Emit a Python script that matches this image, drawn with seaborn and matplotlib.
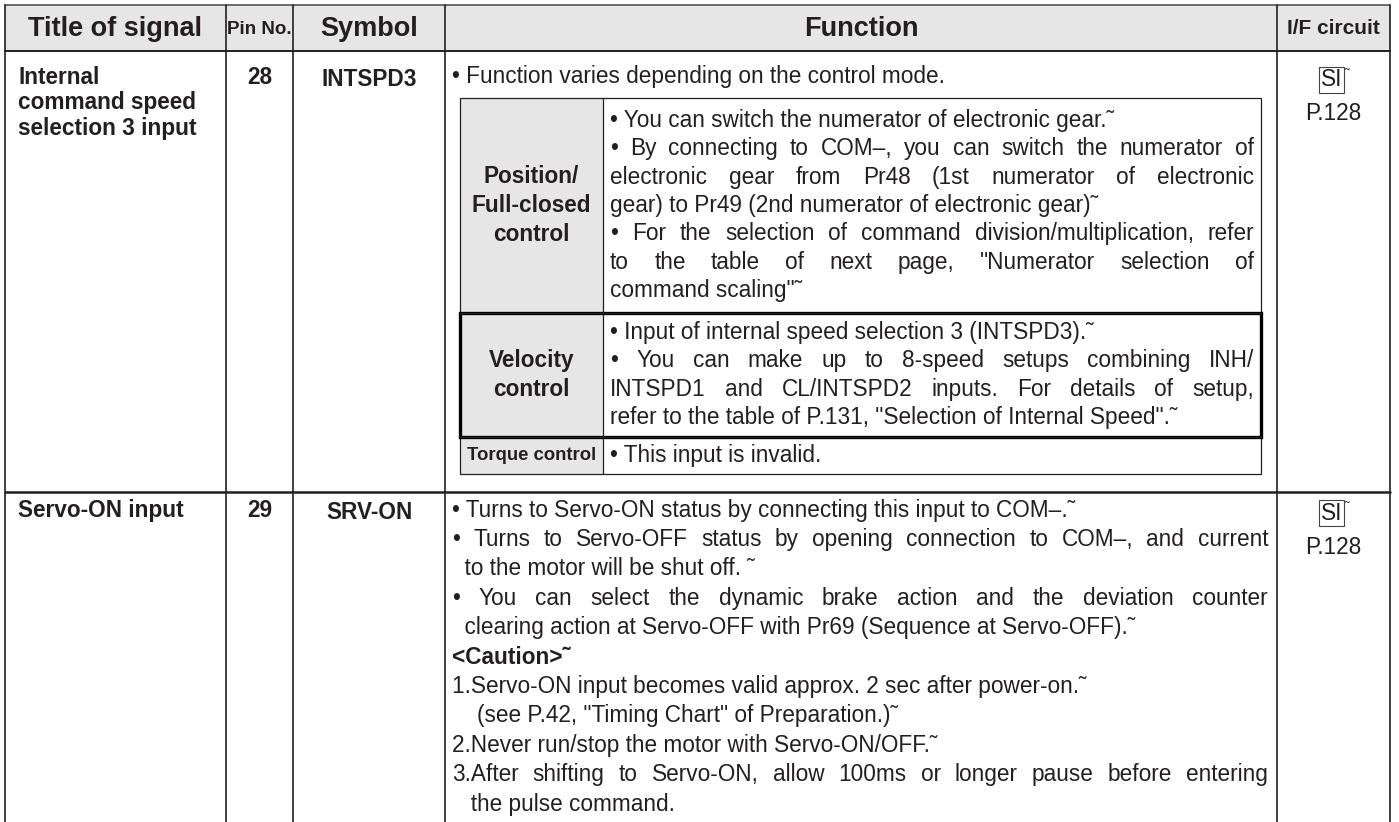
import matplotlib
matplotlib.use("Agg")
import matplotlib.pyplot as plt
import seaborn as sns
from matplotlib.patches import Rectangle

# table content
HEADERS = ["Title of signal", "Pin No.", "Symbol", "Function", "I/F circuit"]
SIGNAL_TITLES = [["Internal", "command speed", "selection 3 input"], ["Servo-ON input"]]
PIN_NUMBERS = ["28", "29"]
SYMBOLS = ["INTSPD3", "SRV-ON"]
IF_CIRCUITS = ["SI", "SI"]
IF_PAGES = ["P.128", "P.128"]

FUNCTION_INTRO = "• Function varies depending on the control mode."
MODE_LABELS = [["Position/", "Full-closed", "control"], ["Velocity", "control"], ["Torque control"]]
MODE_TEXTS = [
    ["• You can switch the numerator of electronic gear.˜",
     "• By connecting to COM–, you can switch the numerator of",
     "electronic gear from Pr48 (1st numerator of electronic",
     "gear) to Pr49 (2nd numerator of electronic gear)˜",
     "• For the selection of command division/multiplication, refer",
     "to the table of next page, \"Numerator selection of",
     "command scaling\"˜"],
    ["• Input of internal speed selection 3 (INTSPD3).˜",
     "•  You can make up to 8-speed setups combining INH/",
     "INTSPD1 and CL/INTSPD2 inputs.  For details of setup,",
     "refer to the table of P.131, \"Selection of Internal Speed\".˜"],
    ["• This input is invalid."],
]
MODE_JUSTIFY = [[0, 1, 1, 0, 1, 1, 0], [0, 1, 1, 0], [0]]

SERVO_TEXT = [
    "• Turns to Servo-ON status by connecting this input to COM–.˜",
    "• Turns to Servo-OFF status by opening connection to COM–, and current",
    "  to the motor will be shut off. ˜",
    "• You can select the dynamic brake action and the deviation counter",
    "  clearing action at Servo-OFF with Pr69 (Sequence at Servo-OFF).˜",
    "<Caution>˜",
    "1.Servo-ON input becomes valid approx. 2 sec after power-on.˜",
    "    (see P.42, \"Timing Chart\" of Preparation.)˜",
    "2.Never run/stop the motor with Servo-ON/OFF.˜",
    "3.After shifting to Servo-ON, allow 100ms or longer pause before entering",
    "   the pulse command.",
]
SERVO_JUSTIFY = [0, 1, 0, 1, 0, 0, 0, 0, 0, 1, 0]
SERVO_BOLD = [0, 0, 0, 0, 0, 1, 0, 0, 0, 0, 0]

W, H = 1399, 822
INK = "#231f20"
GRAY = "#e6e6e6"
BODY = 16.3
# narrow headings are squeezed with a smaller size (no condensed face installed)
NARROW_SIZE = {"Pin No.": 13.5, "I/F circuit": 15.0, "Torque control": 13.3}

sns.set_theme(style="white")
plt.rcParams["font.family"] = ["Liberation Sans", "DejaVu Sans"]

fig = plt.figure(figsize=(W / 100, H / 100), dpi=100)
ax = fig.add_axes([0, 0, 1, 1])
ax.set_xlim(0, W)
ax.set_ylim(H, 0)
ax.axis("off")
renderer = fig.canvas.get_renderer()


def put_line(text, x0, x1, y, justify=False, **kw):
    kw.setdefault("fontsize", BODY)
    kw.setdefault("color", INK)
    if not justify:
        ax.text(x0, y, text, ha="left", va="center", **kw)
        return
    words = text.split()
    objs = [ax.text(0, y, w, ha="left", va="center", **kw) for w in words]
    widths = [o.get_window_extent(renderer).width for o in objs]
    gap = (x1 - x0 - sum(widths)) / (len(words) - 1)
    x = x0
    for o, w in zip(objs, widths):
        o.set_x(x)
        x += w + gap


# column edges and row edges (pixels)
cols = [5, 226, 293, 445, 1277, 1390]
top, head_bot, row_div = 5, 51, 492
sub_l, sub_m, sub_r = 460, 603, 1261
sub_rows = [98, 313, 437, 474]
step = 29.4

# header
ax.add_patch(Rectangle((cols[0], top), cols[-1] - cols[0], head_bot - top, fc=GRAY, ec="none"))
for i, h in enumerate(HEADERS):
    ax.text((cols[i] + cols[i + 1]) / 2, (top + head_bot) / 2 + 1, h, ha="center", va="center",
            fontsize=NARROW_SIZE.get(h, 19.5), fontweight="bold", color=INK)

# grid lines
ax.plot([cols[0], cols[-1]], [top, top], color="#555555", lw=1.2)
ax.plot([cols[0], cols[-1]], [head_bot, head_bot], color=INK, lw=1.4)
ax.plot([cols[0], cols[-1]], [row_div, row_div], color=INK, lw=1.8)
for c in cols:
    ax.plot([c, c], [top, H], color=INK, lw=1.2)

# left columns and I/F column
first_line = [77, 510]
for r in range(2):
    y0 = first_line[r]
    for k, t in enumerate(SIGNAL_TITLES[r]):
        ax.text(18, y0 + k * 26, t, ha="left", va="center", fontsize=BODY, fontweight="bold", color=INK)
    ax.text((cols[1] + cols[2]) / 2, y0, PIN_NUMBERS[r], ha="center", va="center",
            fontsize=BODY, fontweight="bold", color=INK)
    ax.text((cols[2] + cols[3]) / 2, y0 + 2, SYMBOLS[r], ha="center", va="center",
            fontsize=BODY, fontweight="bold", color=INK)
    cx = (cols[4] + cols[5]) / 2
    ax.text(cx - 2, y0 + 3, IF_CIRCUITS[r], ha="center", va="center", fontsize=BODY, color=INK,
            bbox=dict(boxstyle="square,pad=0.08", fc="none", ec="#444444", lw=0.8))
    ax.text(cx + 13, y0 - 2, "˜", ha="center", va="center", fontsize=10, color=INK)
    ax.text(cx, y0 + 37, IF_PAGES[r], ha="center", va="center", fontsize=BODY, color=INK)

# function column, row 1
put_line(FUNCTION_INTRO, 452, 1270, first_line[0])

ax.add_patch(Rectangle((sub_l, sub_rows[0]), sub_m - sub_l, sub_rows[-1] - sub_rows[0], fc=GRAY, ec="none"))
ax.add_patch(Rectangle((sub_l, sub_rows[0]), sub_r - sub_l, sub_rows[-1] - sub_rows[0],
                       fc="none", ec=INK, lw=0.9))
ax.plot([sub_m, sub_m], [sub_rows[0], sub_rows[-1]], color=INK, lw=0.9)
for y in sub_rows[1:-1]:
    ax.plot([sub_l, sub_r], [y, y], color=INK, lw=0.9)
ax.add_patch(Rectangle((sub_l, sub_rows[1]), sub_r - sub_l, sub_rows[2] - sub_rows[1],
                       fc="none", ec="black", lw=2.4))

for m in range(3):
    ya, yb = sub_rows[m], sub_rows[m + 1]
    labels = MODE_LABELS[m]
    ymid = (ya + yb) / 2
    for k, t in enumerate(labels):
        y = ymid + (k - (len(labels) - 1) / 2) * step
        ax.text((sub_l + sub_m) / 2, y, t, ha="center", va="center", fontweight="bold", color=INK,
                fontsize=NARROW_SIZE.get(t, BODY))
    lines = MODE_TEXTS[m]
    y0 = ymid - (len(lines) - 1) / 2 * (step - 1)
    for k, t in enumerate(lines):
        put_line(t, 610, 1254, y0 + k * (step - 1), justify=bool(MODE_JUSTIFY[m][k]))

# function column, row 2
for k, t in enumerate(SERVO_TEXT):
    put_line(t, 452, 1268, first_line[1] + k * step, justify=bool(SERVO_JUSTIFY[k]),
             fontweight="bold" if SERVO_BOLD[k] else "normal")

fig.savefig("out.png", dpi=100, facecolor="white")
